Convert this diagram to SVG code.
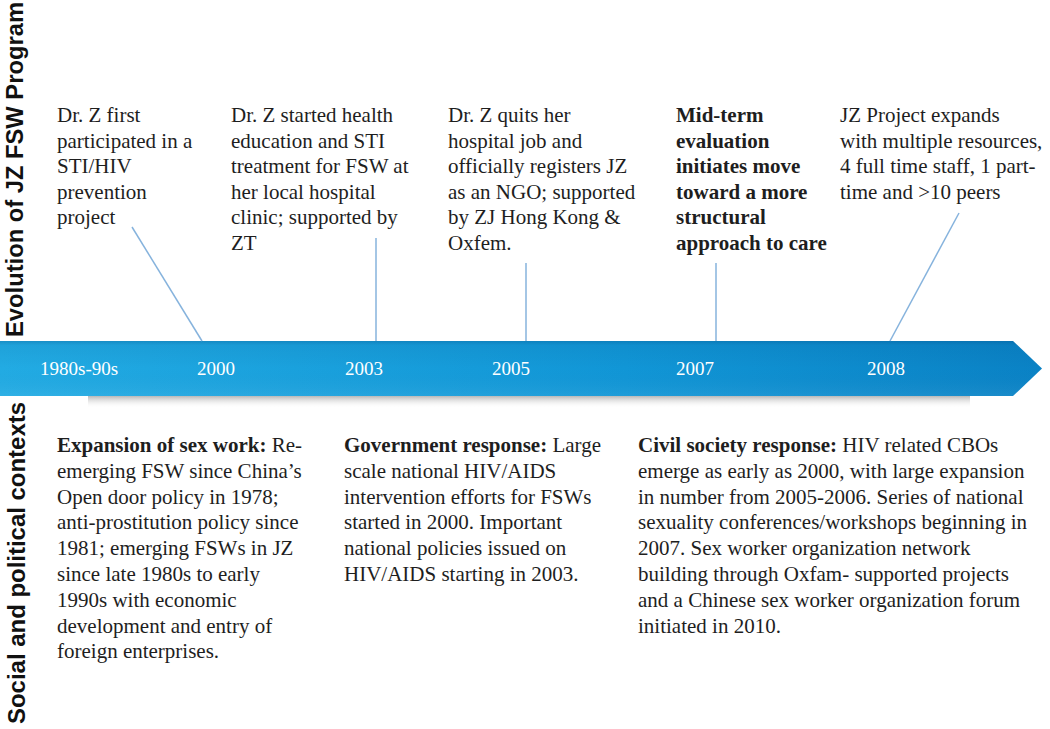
<svg xmlns="http://www.w3.org/2000/svg" width="1050" height="729" viewBox="0 0 1050 729">
<defs>
<linearGradient id="band" x1="0" y1="0" x2="1" y2="0">
<stop offset="0" stop-color="#22abe3"/>
<stop offset="0.6" stop-color="#1196d6"/>
<stop offset="1" stop-color="#0a82c5"/>
</linearGradient>
<linearGradient id="shade" x1="0" y1="0" x2="0" y2="1">
<stop offset="0" stop-color="#003a70" stop-opacity="0.25"/>
<stop offset="0.08" stop-color="#003a70" stop-opacity="0.08"/>
<stop offset="0.5" stop-color="#003a70" stop-opacity="0"/>
<stop offset="1" stop-color="#ffffff" stop-opacity="0.06"/>
</linearGradient>
<linearGradient id="shadow" x1="0" y1="0" x2="0" y2="1">
<stop offset="0" stop-color="#b8b8b8"/>
<stop offset="1" stop-color="#ffffff" stop-opacity="0"/>
</linearGradient>
</defs>
<style>
.t{font-family:"Liberation Serif","Times New Roman",serif;font-size:21px;fill:#1e1e1e}
.b{font-weight:bold}
.yr{font-family:"Liberation Serif","Times New Roman",serif;font-size:19px;fill:#ffffff}
.side{font-family:"Liberation Sans",Arial,sans-serif;font-weight:bold;font-size:23.5px;fill:#111111}
.conn{stroke:#86b3dd;stroke-width:1.5;fill:none}
</style>
<rect x="0" y="0" width="1050" height="729" fill="#ffffff"/>

<g id="side-labels">
<text class="side" transform="translate(23,337) rotate(-90)" textLength="335" lengthAdjust="spacingAndGlyphs">Evolution of JZ FSW Program</text>
<text class="side" transform="translate(25,724) rotate(-90)" textLength="322" lengthAdjust="spacingAndGlyphs">Social and political contexts</text>
</g>

<g id="timeline">
<rect x="88" y="396" width="882" height="12" fill="url(#shadow)"/>
<polygon points="0,341 1013,341 1042,368.5 1013,396 0,396" fill="url(#band)"/>
<polygon points="0,341 1013,341 1042,368.5 1013,396 0,396" fill="url(#shade)"/>
<text class="yr" x="40" y="375">1980s-90s</text>
<text class="yr" x="197" y="375">2000</text>
<text class="yr" x="345" y="375">2003</text>
<text class="yr" x="492" y="375">2005</text>
<text class="yr" x="676" y="375">2007</text>
<text class="yr" x="867" y="375">2008</text>
</g>

<g id="connectors">
<line class="conn" x1="132" y1="227" x2="202" y2="341"/>
<line class="conn" x1="376" y1="238" x2="376" y2="341"/>
<line class="conn" x1="526" y1="263" x2="526" y2="341"/>
<line class="conn" x1="716" y1="263" x2="716" y2="341"/>
<line class="conn" x1="959" y1="213" x2="890" y2="341"/>
</g>

<g id="event-1980s">
<text class="t"><tspan x="57" y="122">Dr. Z first</tspan><tspan x="57" y="147.5">participated in a</tspan><tspan x="57" y="173">STI/HIV</tspan><tspan x="57" y="198.5">prevention</tspan><tspan x="57" y="224">project</tspan></text>
</g>

<g id="event-2003">
<text class="t"><tspan x="231" y="122">Dr. Z started health</tspan><tspan x="231" y="147.5">education and STI</tspan><tspan x="231" y="173">treatment for FSW at</tspan><tspan x="231" y="198.5">her local hospital</tspan><tspan x="231" y="224">clinic; supported by</tspan><tspan x="231" y="249.5">ZT</tspan></text>
</g>

<g id="event-2005">
<text class="t"><tspan x="448" y="122">Dr. Z quits her</tspan><tspan x="448" y="147.5">hospital job and</tspan><tspan x="448" y="173">officially registers JZ</tspan><tspan x="448" y="198.5">as an NGO; supported</tspan><tspan x="448" y="224">by ZJ Hong Kong &amp;</tspan><tspan x="448" y="249.5">Oxfem.</tspan></text>
</g>

<g id="event-2007">
<text class="t b"><tspan x="676" y="122">Mid-term</tspan><tspan x="676" y="147.5">evaluation</tspan><tspan x="676" y="173">initiates move</tspan><tspan x="676" y="198.5">toward a more</tspan><tspan x="676" y="224">structural</tspan><tspan x="676" y="249.5">approach to care</tspan></text>
</g>

<g id="event-2008">
<text class="t"><tspan x="840" y="122">JZ Project expands</tspan><tspan x="840" y="147.5">with multiple resources,</tspan><tspan x="840" y="173">4 full time staff, 1 part-</tspan><tspan x="840" y="198.5">time and &gt;10 peers</tspan></text>
</g>

<g id="context-sex-work">
<text class="t"><tspan x="57" y="452"><tspan class="b">Expansion of sex work:</tspan> Re-</tspan><tspan x="57" y="477.8">emerging FSW since China’s</tspan><tspan x="57" y="503.6">Open door policy in 1978;</tspan><tspan x="57" y="529.4">anti-prostitution policy since</tspan><tspan x="57" y="555.2">1981; emerging FSWs in JZ</tspan><tspan x="57" y="581">since late 1980s to early</tspan><tspan x="57" y="606.8">1990s with economic</tspan><tspan x="57" y="632.6">development and entry of</tspan><tspan x="57" y="658.4">foreign enterprises.</tspan></text>
</g>

<g id="context-government">
<text class="t"><tspan x="344" y="452"><tspan class="b">Government response:</tspan> Large</tspan><tspan x="344" y="477.8">scale national HIV/AIDS</tspan><tspan x="344" y="503.6">intervention efforts for FSWs</tspan><tspan x="344" y="529.4">started in 2000. Important</tspan><tspan x="344" y="555.2">national policies issued on</tspan><tspan x="344" y="581">HIV/AIDS starting in 2003.</tspan></text>
</g>

<g id="context-civil-society">
<text class="t"><tspan x="638" y="452"><tspan class="b">Civil society response:</tspan> HIV related CBOs</tspan><tspan x="638" y="477.8">emerge as early as 2000, with large expansion</tspan><tspan x="638" y="503.6">in number from 2005-2006. Series of national</tspan><tspan x="638" y="529.4">sexuality conferences/workshops beginning in</tspan><tspan x="638" y="555.2">2007. Sex worker organization network</tspan><tspan x="638" y="581">building through Oxfam- supported projects</tspan><tspan x="638" y="606.8">and a Chinese sex worker organization forum</tspan><tspan x="638" y="632.6">initiated in 2010.</tspan></text>
</g>
</svg>
